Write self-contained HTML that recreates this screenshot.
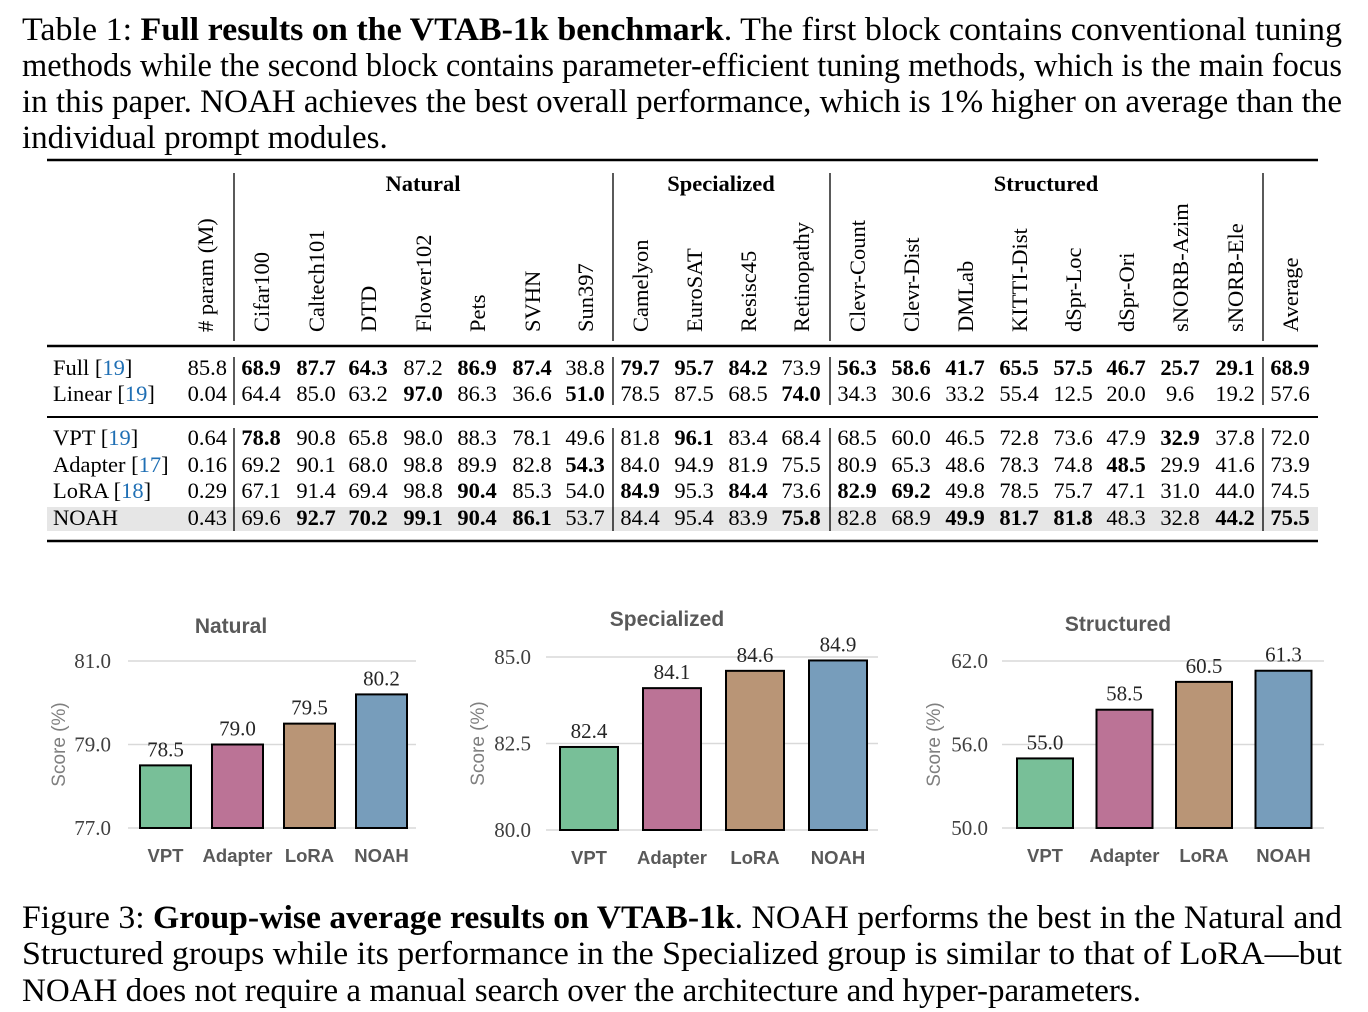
<!DOCTYPE html>
<html><head><meta charset="utf-8">
<style>
html,body{margin:0;padding:0;background:#fff;}
svg{display:block;}
.cap{font-family:"Liberation Serif",serif;font-size:33px;fill:#000;}
.tb{font-family:"Liberation Serif",serif;font-size:22.5px;fill:#000;}
.sans{font-family:"Liberation Sans",sans-serif;}
</style></head>
<body>
<svg id="page" width="1368" height="1012" viewBox="0 0 1368 1012">
<g>
<text class="cap" x="22" y="40" textLength="1320" lengthAdjust="spacingAndGlyphs">Table 1: <tspan font-weight="bold">Full results on the VTAB-1k benchmark</tspan>. The first block contains conventional tuning</text>
<text class="cap" x="22" y="76" textLength="1320" lengthAdjust="spacingAndGlyphs">methods while the second block contains parameter-efficient tuning methods, which is the main focus</text>
<text class="cap" x="22" y="112" textLength="1320" lengthAdjust="spacingAndGlyphs">in this paper. NOAH achieves the best overall performance, which is 1% higher on average than the</text>
<text class="cap" x="22" y="148">individual prompt modules.</text>
</g>
<g id="table"></g>
<g id="charts"></g>
<g>
<text class="cap" x="22" y="928" textLength="1320" lengthAdjust="spacingAndGlyphs">Figure 3: <tspan font-weight="bold">Group-wise average results on VTAB-1k</tspan>. NOAH performs the best in the Natural and</text>
<text class="cap" x="22" y="964" textLength="1320" lengthAdjust="spacingAndGlyphs">Structured groups while its performance in the Specialized group is similar to that of LoRA—but</text>
<text class="cap" x="22" y="1001">NOAH does not require a manual search over the architecture and hyper-parameters.</text>
</g>
</svg>
<script>
const NS="http://www.w3.org/2000/svg";
function mk(tag,attrs,parent,txt){const e=document.createElementNS(NS,tag);for(const k in attrs)e.setAttribute(k,attrs[k]);if(txt!==undefined)e.textContent=txt;parent.appendChild(e);return e;}

// ---- table data ----
const colNames=["# param (M)","Cifar100","Caltech101","DTD","Flower102","Pets","SVHN","Sun397","Camelyon","EuroSAT","Resisc45","Retinopathy","Clevr-Count","Clevr-Dist","DMLab","KITTI-Dist","dSpr-Loc","dSpr-Ori","sNORB-Azim","sNORB-Ele","Average"];
const colX=[205,261,316,368,423,477,532,585,640,694,748,801,857,911,965,1019,1073,1126,1180,1235,1290];
const rowNames=["Full","Linear","VPT","Adapter","LoRA","NOAH"];
const rowRefs=["19","19","19","17","18",""];
const rowY=[368,394,438,465,491,518];
const rowFull=["85.8","*68.9","*87.7","*64.3","87.2","*86.9","*87.4","38.8","*79.7","*95.7","*84.2","73.9","*56.3","*58.6","*41.7","*65.5","*57.5","*46.7","*25.7","*29.1","*68.9"];
const rowLinear=["0.04","64.4","85.0","63.2","*97.0","86.3","36.6","*51.0","78.5","87.5","68.5","*74.0","34.3","30.6","33.2","55.4","12.5","20.0","9.6","19.2","57.6"];
const rowVPT=["0.64","*78.8","90.8","65.8","98.0","88.3","78.1","49.6","81.8","*96.1","83.4","68.4","68.5","60.0","46.5","72.8","73.6","47.9","*32.9","37.8","72.0"];
const rowAdapter=["0.16","69.2","90.1","68.0","98.8","89.9","82.8","*54.3","84.0","94.9","81.9","75.5","80.9","65.3","48.6","78.3","74.8","*48.5","29.9","41.6","73.9"];
const rowLoRA=["0.29","67.1","91.4","69.4","98.8","*90.4","85.3","54.0","*84.9","95.3","*84.4","73.6","*82.9","*69.2","49.8","78.5","75.7","47.1","31.0","44.0","74.5"];
const rowNOAH=["0.43","69.6","*92.7","*70.2","*99.1","*90.4","*86.1","53.7","84.4","95.4","83.9","*75.8","82.8","68.9","*49.9","*81.7","*81.8","48.3","32.8","*44.2","*75.5"];
const rows=[rowFull,rowLinear,rowVPT,rowAdapter,rowLoRA,rowNOAH];
const groups=[["Natural",423],["Specialized",721],["Structured",1046]];

const T=document.getElementById('table');
let r=mk('rect',{x:47,y:507,width:1271,height:24,fill:'#e6e6e6'},T);


[[160,2.5],[346,2.5],[417,2],[541,2.5]].forEach(([y,w],i)=>{
  const l=mk('line',{x1:47,x2:1318,y1:y,y2:y,stroke:'#000','stroke-width':w},T);
  
  
});
[234,613,830,1263].forEach(x=>{
  [[173,341],[357,405],[428,531]].forEach(([a,b])=>{
    const l=mk('line',{x1:x,x2:x,y1:a,y2:b,stroke:'#000','stroke-width':1.3},T);
    
    
  });
});
groups.forEach(([g,x])=>{
  const t=mk('text',{x:x,y:191,'text-anchor':'middle','class':'tb','font-weight':'bold'},T,g);
  
  
});
colNames.forEach((c,i)=>{
  const t=mk('text',{x:0,y:0,'class':'tb','font-size':23,transform:`translate(${colX[i]+8},332) rotate(-90)`},T,c);
  
  
});
rowNames.forEach((n,i)=>{
  const t=mk('text',{x:53,y:rowY[i]+7,'class':'tb'},T,n+(rowRefs[i]?' [':''));
  if(rowRefs[i]){mk('tspan',{fill:'#1f6fb4'},t,rowRefs[i]);t.appendChild(document.createTextNode(']'));}
  
  
  rows[i].forEach((v,j)=>{
    const b=v[0]==='*';
    const c=mk('text',{x:j===0?227:colX[j],y:rowY[i]+7,'text-anchor':j===0?'end':'middle','class':'tb','font-weight':b?'bold':'normal'},T,b?v.slice(1):v);
    
    
  });
});

// ---- chart data ----
const methods=["VPT","Adapter","LoRA","NOAH"];
const barColors=["#78bf98","#bb7396","#b99576","#779dbb"];
const naturalValues=[78.5,79.0,79.5,80.2];
const specializedValues=[82.4,84.1,84.6,84.9];
const structuredValues=[55.0,58.5,60.5,61.3];
const naturalTicks=["77.0","79.0","81.0"];
const specializedTicks=["80.0","82.5","85.0"];
const structuredTicks=["50.0","56.0","62.0"];

const C=document.getElementById('charts');
function chart(title,vals,ticks,geo){
  const g=mk('g',{},C);
  
  
  const lo=parseFloat(ticks[0]),hi=parseFloat(ticks[ticks.length-1]);
  const y=v=>geo.y0+(v-lo)/(hi-lo)*(geo.y1-geo.y0);
  ticks.forEach(t=>{
    const yy=y(parseFloat(t));
    const l=mk('line',{x1:geo.gx0,x2:geo.gx1,y1:yy,y2:yy,stroke:'#d9d9d9','stroke-width':1.5},g);
    
    
    const tt=mk('text',{x:geo.tickX,y:yy+7,'text-anchor':'end','font-family':'Liberation Serif, serif','font-size':21,fill:'#404040'},g,t);
    
    
  });
  const ti=mk('text',{x:geo.titleX,y:geo.titleY+7,'text-anchor':'middle','class':'sans','font-size':21,'font-weight':'bold',fill:'#595959'},g,title);
  
  
  const yl=mk('text',{x:0,y:0,'text-anchor':'middle','class':'sans','font-size':19,fill:'#7f7f7f',transform:`translate(${geo.labX+7},${(geo.y0+geo.y1)/2}) rotate(-90)`},g,'Score (%)');
  
  
  vals.forEach((v,i)=>{
    const x=geo.bx0+i*geo.pitch, top=y(v);
    const b=mk('rect',{x:x,y:top,width:geo.bw,height:geo.y0-top,fill:barColors[i],stroke:'#000','stroke-width':2},g);
    
    
    const vl=mk('text',{x:x+geo.bw/2,y:top-9,'text-anchor':'middle','font-family':'Liberation Serif, serif','font-size':21,fill:'#262626'},g,v.toFixed(1));
    
    
    const xl=mk('text',{x:x+geo.bw/2,y:geo.xlabY+7,'text-anchor':'middle','class':'sans','font-size':18.5,'font-weight':'bold',fill:'#595959'},g,methods[i]);
    
    
  });
}
chart("Natural",naturalValues,naturalTicks,{y0:828,y1:661,gx0:128,gx1:416,tickX:111,labX:58,titleX:231,titleY:626,bx0:140,pitch:72,bw:51,xlabY:855});
chart("Specialized",specializedValues,specializedTicks,{y0:830,y1:657,gx0:546,gx1:878,tickX:531,labX:477,titleX:667,titleY:619,bx0:560,pitch:83,bw:58,xlabY:857});
chart("Structured",structuredValues,structuredTicks,{y0:828,y1:661,gx0:1002,gx1:1324,tickX:988,labX:933,titleX:1118,titleY:624,bx0:1017,pitch:79.5,bw:56,xlabY:855});
</script>
</body></html>
